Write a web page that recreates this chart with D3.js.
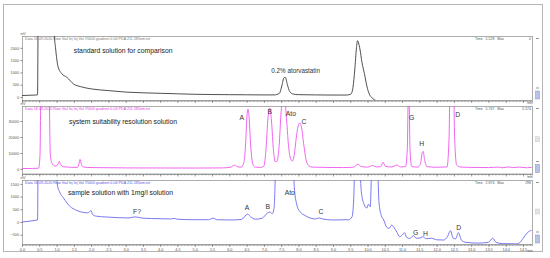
<!DOCTYPE html>
<html>
<head>
<meta charset="utf-8">
<script src="https://cdn.jsdelivr.net/npm/d3@7"></script>
<style>
  body { margin: 0; background: #fff; }
  svg { display: block; font-family: "Liberation Sans", Arial, sans-serif; }
</style>
</head>
<body>
<script>
// retention time (min) / detector response pairs
var standardTrace = [
  [0,60],[0.2,70],[0.4,80],[0.45,90],[0.47,3500],[0.9,3500],[0.93,2600],[0.97,2000],
  [1.04,1250],[1.15,950],[1.3,800],[1.5,520],[1.7,420],[2.0,330],[2.5,260],[3.0,200],
  [3.5,170],[4.0,150],[4.5,130],[5.0,110],[5.5,100],[6.0,95],[6.5,90],[7.0,85],[7.3,85],
  [7.45,150],[7.52,450],[7.58,780],[7.62,800],[7.68,500],[7.75,220],[7.85,120],[8.0,95],
  [8.5,85],[9.0,80],[9.4,80],[9.52,120],[9.58,400],[9.63,1100],[9.68,2000],[9.71,2290],
  [9.74,2200],[9.78,1950],[9.84,1400],[9.91,950],[9.98,450],[10.05,120],[10.12,-20],
  [10.2,-110],[10.25,-150]
];
var resolutionTrace = [
  [0,300],[0.3,350],[0.48,500],[0.52,8000],[0.55,50000],[0.78,50000],[0.82,9000],
  [0.86,4000],[0.92,2200],[0.98,1800],[1.02,2500],[1.05,3500],[1.08,4800],[1.11,3200],
  [1.15,1800],[1.25,1300],[1.4,1100],[1.6,1000],[1.64,2500],[1.68,6000],[1.72,2800],
  [1.78,1200],[2.0,900],[3.0,700],[4.0,650],[5.0,600],[5.8,700],[6.05,1200],[6.15,2500],
  [6.25,1300],[6.35,1200],[6.42,4000],[6.47,15000],[6.51,33000],[6.54,37500],[6.57,33000],
  [6.62,14000],[6.68,3000],[6.75,1200],[6.9,1000],[7.0,1800],[7.06,12000],[7.12,32000],
  [7.17,38000],[7.22,30000],[7.28,11000],[7.33,4500],[7.38,5000],[7.44,14000],[7.5,36000],
  [7.55,44000],[7.6,44000],[7.66,30000],[7.72,13000],[7.78,6000],[7.83,5000],[7.88,9000],
  [7.94,20000],[8.0,27500],[8.04,28700],[8.09,26000],[8.15,16000],[8.22,6000],[8.3,2000],
  [8.4,1200],[8.8,1000],[9.3,900],[9.6,1200],[9.72,3000],[9.82,1500],[10.0,1200],
  [10.15,2200],[10.25,1300],[10.38,1500],[10.45,4200],[10.52,1600],[10.7,1300],
  [10.85,2500],[10.95,1300],[11.1,1500],[11.15,12000],[11.19,60000],[11.23,12000],
  [11.28,1500],[11.45,1200],[11.53,3000],[11.58,10000],[11.61,11000],[11.65,6000],
  [11.72,1500],[12.0,1100],[12.3,1300],[12.36,20000],[12.4,70000],[12.48,70000],
  [12.52,20000],[12.58,2500],[12.7,1200],[13.0,1000],[13.5,900],[13.8,1200],[13.9,800],
  [14.1,1300],[14.2,900],[14.4,1200],[14.6,800],[14.75,1000]
];
var sampleTrace = [
  [0,0],[0.2,30],[0.4,70],[0.45,80],[0.47,3000],[0.98,3000],[1.02,1500],[1.1,1150],
  [1.2,950],[1.3,750],[1.4,600],[1.55,480],[1.7,400],[1.9,360],[1.97,420],[2.0,450],
  [2.04,300],[2.15,230],[2.4,200],[2.8,170],[3.1,160],[3.25,200],[3.35,190],[3.5,150],
  [4.0,130],[4.3,120],[4.4,140],[4.5,110],[5.0,90],[5.4,90],[5.53,150],[5.65,90],[6.0,80],
  [6.35,100],[6.53,310],[6.62,200],[6.75,110],[6.95,150],[7.1,350],[7.17,390],[7.25,330],
  [7.3,600],[7.34,2200],[7.4,3000],[7.83,3000],[7.88,1400],[7.95,700],[8.05,400],
  [8.2,250],[8.35,150],[8.5,120],[8.6,160],[8.7,120],[9.0,80],[9.45,90],[9.55,200],
  [9.6,900],[9.64,2500],[9.76,2500],[9.82,1200],[9.9,700],[9.98,550],[10.03,700],
  [10.08,600],[10.13,2500],[10.28,2500],[10.33,800],[10.4,250],[10.47,80],[10.55,-200],
  [10.62,-250],[10.7,-120],[10.76,-200],[10.85,-400],[10.93,-580],[11.0,-520],
  [11.07,-420],[11.13,-600],[11.22,-650],[11.33,-540],[11.42,-640],[11.52,-630],
  [11.6,-580],[11.7,-660],[11.85,-640],[12.0,-700],[12.2,-710],[12.32,-560],[12.4,-340],
  [12.48,-640],[12.55,-660],[12.63,-420],[12.72,-720],[12.85,-800],[13.2,-830],
  [13.5,-800],[13.62,-640],[13.72,-800],[13.9,-850],[14.3,-860],[14.4,-820],[14.5,-650],
  [14.62,-430],[14.75,-320]
];

var timeTicks = [0,0.5,1,1.5,2,2.5,3,3.5,4,4.5,5,5.5,6,6.5,7,7.5,8,8.5,9,9.5,10,10.5,11,11.5,12,12.5,13,13.5,14,14.5];
var standardTicks = [0,500,1000,1500,2000];
var resolutionTicks = [0,10000,20000,30000];
var sampleTicks = [-500,0,500,1000,1500];

// peak names with the point where each label sits
var standardLabels = [["0.2% atorvastatin",7.92,1060]];
var resolutionLabels = [["A",6.36,31900],["B",7.17,35600],["Ato",7.78,34400],["C",8.16,29400],
                        ["G",11.28,31900],["H",11.57,15600],["D",12.61,33750]];
var sampleLabels = [["F?",3.33,394],["A",6.51,551],["B",7.11,590],["Ato",7.75,1142],["C",8.65,394],
                    ["G",11.39,-433],["H",11.68,-472],["D",12.64,-236]];

var titles = ["standard solution for comparison","system suitability resolution solution","sample solution with 1mg/l solution"];
var headers = ["Data 18.09.2020 Row Vial Inj Inj Vol 7/00/0 gradient 0.04 PDA 211 285nm.txt",
               "Data 18.09.2020 Row Vial Inj Inj Vol 7/00/0 gradient 0.04 PDA 211 285nm.txt",
               "Data 18.09.2020 Row Vial Inj Inj Vol 7/00/0 gradient 0.04 PDA 211 285nm.txt"];
var timeInfo = [["Time   5.528   Max","0"],["Time   5.747   Max","5.574"],["Time   2.874   Max","298"]];

var width = 550, height = 258;
var left = 22, right = 532;

var svg = d3.select("body").append("svg")
    .attr("width", width)
    .attr("height", height);

// outer frame
svg.append("rect")
    .attr("x", 3.5).attr("y", 4.5)
    .attr("width", 539).attr("height", 247)
    .attr("fill", "none").attr("stroke", "#b4b4b4");

var x = d3.scaleLinear().domain([0, 14.76]).range([left, right]);

var panels = [
  {trace: standardTrace, ticks: standardTicks, labels: standardLabels, top: 36, bottom: 100,
   domain: [-122, 2480], color: "#3c3c3c", head: "#777", title: [1.5, 1870], tickLabels: false},
  {trace: resolutionTrace, ticks: resolutionTicks, labels: resolutionLabels, top: 106, bottom: 173.5,
   domain: [-2800, 39375], color: "#ee55ee", head: "#e040e0", title: [1.36, 29375], tickLabels: false},
  {trace: sampleTrace, ticks: sampleTicks, labels: sampleLabels, top: 180, bottom: 244,
   domain: [-866, 1654], color: "#6a6aee", head: "#5555dd", title: [1.33, 1142], tickLabels: true}
];

panels.forEach(function(p, i) {
  var y = d3.scaleLinear().domain(p.domain).range([p.bottom, p.top]);
  var g = svg.append("g");

  g.append("clipPath").attr("id", "clip" + i)
    .append("rect")
      .attr("x", left).attr("y", p.top)
      .attr("width", right - left).attr("height", p.bottom - p.top);

  // panel box
  g.append("rect")
      .attr("x", left + 0.5).attr("y", p.top + 0.5)
      .attr("width", right - left).attr("height", p.bottom - p.top)
      .attr("fill", "none").attr("stroke", "#9a9a9a").attr("stroke-width", 0.8);

  // y axis
  var ya = g.append("g")
      .attr("transform", "translate(" + (left + 0.5) + ",0)")
      .call(d3.axisLeft(y).tickValues(p.ticks).tickSize(2).tickPadding(1.5).tickFormat(d3.format("d")));
  ya.select(".domain").remove();
  ya.selectAll("line").attr("stroke", "#888");
  ya.selectAll("text").attr("font-size", 3.8).attr("fill", "#555");
  g.append("text")
      .attr("x", left + 1).attr("y", p.top - 1.5)
      .attr("font-size", 3.5).attr("fill", "#666").attr("text-anchor", "middle")
      .text("mV");

  // x axis: minor ticks every 0.1 min, major every 0.5 min
  var xa = g.append("g")
      .attr("transform", "translate(0," + (p.bottom + 0.5) + ")")
      .call(d3.axisBottom(x).tickValues(d3.range(0, 14.75, 0.1)).tickSize(1.5).tickFormat(""));
  xa.select(".domain").attr("stroke", "#9a9a9a");
  xa.selectAll("line").attr("stroke", "#888").attr("stroke-width", 0.6);
  var xb = g.append("g")
      .attr("transform", "translate(0," + (p.bottom + 0.5) + ")")
      .call(d3.axisBottom(x).tickValues(timeTicks).tickSize(2.5).tickPadding(1.5)
        .tickFormat(p.tickLabels ? d3.format(".1f") : ""));
  xb.select(".domain").remove();
  xb.selectAll("line").attr("stroke", "#777").attr("stroke-width", 0.7);
  xb.selectAll("text").attr("font-size", 3.8).attr("fill", "#555");
  g.append("text")
      .attr("x", right - 2).attr("y", p.bottom + (p.tickLabels ? 7.5 : 4))
      .attr("font-size", 3.5).attr("fill", "#555").attr("text-anchor", "middle")
      .text("min");

  // trace
  var line = d3.line()
      .x(function(d) { return x(d[0]); })
      .y(function(d) { return y(d[1]); })
      .curve(d3.curveMonotoneX);
  g.append("path")
      .datum(p.trace)
      .attr("clip-path", "url(#clip" + i + ")")
      .attr("fill", "none")
      .attr("stroke", p.color)
      .attr("stroke-width", 0.9)
      .attr("d", line);

  // header line and time readout
  g.append("text")
      .attr("x", left + 3).attr("y", p.top + 3.5)
      .attr("font-size", 3.5).attr("fill", p.head)
      .attr("textLength", 125).attr("lengthAdjust", "spacingAndGlyphs")
      .text(headers[i]);
  g.append("text")
      .attr("x", 475).attr("y", p.top + 3.5)
      .attr("font-size", 3.5).attr("fill", "#555")
      .attr("xml:space", "preserve")
      .text(timeInfo[i][0]);
  g.append("text")
      .attr("x", right - 1).attr("y", p.top + 3.5)
      .attr("font-size", 3.5).attr("fill", "#555").attr("text-anchor", "end")
      .text(timeInfo[i][1]);

  // title
  g.append("text")
      .attr("x", x(p.title[0])).attr("y", y(p.title[1]))
      .attr("dy", "0.35em")
      .attr("font-size", 6.8).attr("fill", "#222")
      .text(titles[i]);

  // peak labels
  g.selectAll(".peak")
    .data(p.labels)
    .enter().append("text")
      .attr("class", "peak")
      .attr("x", function(d) { return x(d[1]); })
      .attr("y", function(d) { return y(d[2]); })
      .attr("dy", "0.35em")
      .attr("text-anchor", "middle")
      .attr("font-size", i == 0 ? 6.3 : 6.8)
      .attr("fill", "#333")
      .text(function(d) { return d[0]; });

  // scroll controls in the right strip
  g.append("line")
      .attr("x1", 536).attr("x2", 539).attr("y1", p.top + 2.5).attr("y2", p.top + 2.5)
      .attr("stroke", "#666").attr("stroke-width", 0.7);
  g.append("line")
      .attr("x1", 536).attr("x2", 539).attr("y1", p.bottom - 12).attr("y2", p.bottom - 12)
      .attr("stroke", "#666").attr("stroke-width", 0.7);
  g.append("rect")
      .attr("x", 535.5).attr("y", p.bottom - 9).attr("width", 4).attr("height", 8)
      .attr("fill", "#b9c3e8").attr("stroke", "#7f8fcf").attr("stroke-width", 0.5);
  if (i > 0) {
    g.append("rect")
        .attr("x", 535.5).attr("y", (p.top + p.bottom) / 2 - 3).attr("width", 4).attr("height", 5)
        .attr("fill", "#e4e4e4").attr("stroke", "#c8c8c8").attr("stroke-width", 0.5);
  }
});
</script>
</body>
</html>
